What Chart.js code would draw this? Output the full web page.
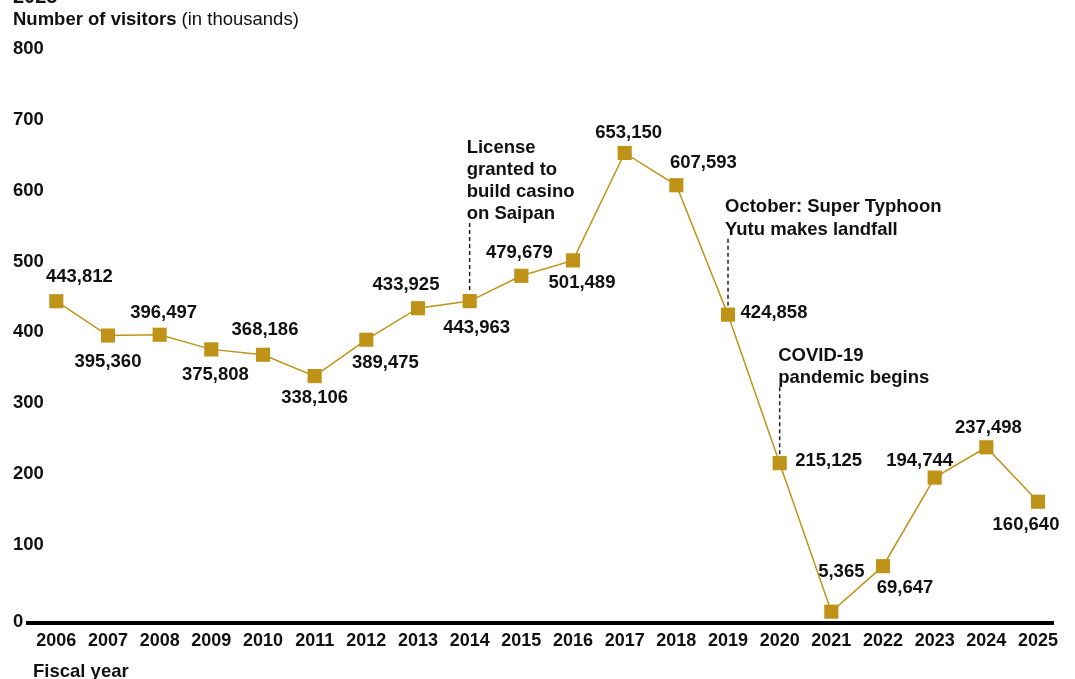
<!DOCTYPE html>
<html>
<head>
<meta charset="utf-8">
<script src="https://cdn.jsdelivr.net/npm/chart.js@4/dist/chart.umd.min.js"></script>
<style>
  html, body { margin: 0; padding: 0; background: #fff; }
  #wrap { width: 1075px; height: 679px; position: relative; }
</style>
</head>
<body>
<div id="wrap"><canvas id="visitorsChart"></canvas></div>
<script>
// ====== Data ======
const years = [2006, 2007, 2008, 2009, 2010, 2011, 2012, 2013, 2014, 2015,
               2016, 2017, 2018, 2019, 2020, 2021, 2022, 2023, 2024, 2025];
const visitors = [443812, 395360, 396497, 375808, 368186, 338106, 389475, 433925, 443963, 479679,
                  501489, 653150, 607593, 424858, 215125, 5365, 69647, 194744, 237498, 160640];
const yTicks = [0, 100, 200, 300, 400, 500, 600, 700, 800];

// events called out above the line
const eventYears = [2014, 2019, 2020];
const eventNotes = [
  ["License", "granted to", "build casino", "on Saipan"],
  ["October: Super Typhoon", "Yutu makes landfall"],
  ["COVID-19", "pandemic begins"]
];

// where each value label sits relative to its marker (dx, dy)
const labelOffsets = [
  [23, -24], [0, 26], [4, -22], [4, 26], [2, -25], [0, 22], [19, 23], [-12, -23], [7, 27], [-2, -23],
  [9, 23], [4, -20], [27, -22], [46, -2], [49, -2], [10, -40], [22, 22], [-15, -17], [2, -19], [-12, 23]
];
const noteLift = [82, 80, 80];
const noteShift = [-3, -3, -1.5];

const GOLD = "#BF9318";
const INK = "#111";
const FONT = "'Liberation Sans', Arial, sans-serif";
const BOLD = "bold 18.5px " + FONT;

const fmt = v => v.toLocaleString("en-US");

const annotate = {
  id: "annotate",
  afterDatasetsDraw(chart) {
    const ctx = chart.ctx;
    const pts = chart.getDatasetMeta(0).data;
    ctx.save();

    // dashed leader lines + event notes
    eventYears.forEach((yr, k) => {
      const p = pts[years.indexOf(yr)];
      const lastBase = p.y - noteLift[k];
      ctx.strokeStyle = "#222";
      ctx.lineWidth = 1.5;
      ctx.setLineDash([4, 3]);
      ctx.beginPath();
      ctx.moveTo(p.x, lastBase + 4);
      ctx.lineTo(p.x, p.y - 8);
      ctx.stroke();
      ctx.setLineDash([]);

      ctx.fillStyle = INK;
      ctx.font = BOLD;
      ctx.textAlign = "left";
      ctx.textBaseline = "alphabetic";
      const lines = eventNotes[k];
      lines.forEach((t, i) => {
        ctx.fillText(t, p.x + noteShift[k], lastBase - (lines.length - 1 - i) * 22.2);
      });
    });

    // value labels
    ctx.font = BOLD;
    ctx.fillStyle = INK;
    ctx.textAlign = "center";
    ctx.textBaseline = "middle";
    pts.forEach((p, i) => {
      const [dx, dy] = labelOffsets[i];
      ctx.fillText(fmt(visitors[i]), p.x + dx, p.y + dy);
    });
    ctx.restore();
  },
  afterDraw(chart) {
    const ctx = chart.ctx;
    const yScale = chart.scales.y;
    ctx.save();
    ctx.fillStyle = INK;
    ctx.textAlign = "left";

    // y tick labels, left-aligned and overhanging the plot edge
    ctx.font = BOLD;
    ctx.textBaseline = "middle";
    yTicks.forEach(v => {
      const y = v === 0 ? chart.chartArea.bottom - 1 : yScale.getPixelForValue(v);
      ctx.fillText(String(v), 13, y);
    });

    ctx.textBaseline = "alphabetic";
    // tail of the heading that runs off the top
    ctx.font = "bold 20px " + FONT;
    ctx.fillText("2025", 13, 3);

    // y-axis heading
    ctx.font = BOLD;
    const head = "Number of visitors";
    ctx.fillText(head, 13, 25);
    const w = ctx.measureText(head + " ").width;
    ctx.font = "18.5px " + FONT;
    ctx.fillText("(in thousands)", 13 + w, 25);

    // x-axis heading
    ctx.font = BOLD;
    ctx.fillText("Fiscal year", 33, 677);
    ctx.restore();
  }
};

new Chart(document.getElementById("visitorsChart"), {
  type: "line",
  data: {
    datasets: [{
      data: years.map((y, i) => ({ x: y, y: visitors[i] / 1000 })),
      borderColor: GOLD,
      borderWidth: 1.5,
      backgroundColor: GOLD,
      pointStyle: "rect",
      pointRadius: 10,
      pointHoverRadius: 10,
      pointBorderWidth: 0,
      pointBackgroundColor: GOLD,
      tension: 0
    }]
  },
  options: {
    responsive: true,
    maintainAspectRatio: false,
    animation: false,
    events: [],
    layout: { padding: { top: 49, left: 13, right: 22, bottom: 0 } },
    plugins: {
      legend: { display: false },
      tooltip: { enabled: false }
    },
    scales: {
      x: {
        type: "linear",
        min: 2005.452,
        max: 2025.29,
        afterBuildTicks: s => { s.ticks = years.map(v => ({ value: v })); },
        afterFit: s => { s.height = 56; },
        grid: { display: false, drawTicks: false },
        border: { display: true, color: "#000", width: 4 },
        ticks: {
          padding: 7,
          autoSkip: false,
          maxRotation: 0,
          color: INK,
          font: { family: FONT, size: 18, weight: "bold" },
          callback: v => String(v)
        }
      },
      y: {
        min: -10.6,
        max: 800,
        afterBuildTicks: s => { s.ticks = yTicks.map(v => ({ value: v })); },
        afterFit: s => { s.width = 15; },
        grid: { display: false, drawTicks: false },
        border: { display: false },
        ticks: { display: false }
      }
    }
  },
  plugins: [annotate]
});
</script>
</body>
</html>
